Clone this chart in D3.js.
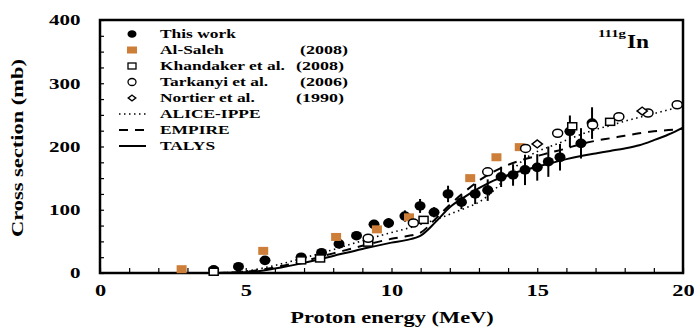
<!DOCTYPE html>
<html>
<head>
<meta charset="utf-8">
<script src="https://cdn.jsdelivr.net/npm/d3@7"></script>
<style>
  body { margin: 0; background: #fff; }
  text { font-family: "Liberation Serif", "Times New Roman", serif; font-weight: bold; fill: #000; }
</style>
</head>
<body>
<div id="chart"></div>
<script>
// ---- data ----
var workE   = [3.9, 4.75, 5.66, 6.9, 7.6, 8.2, 8.8, 9.4, 9.9, 10.46, 10.98, 11.46, 11.94, 12.4, 12.87, 13.3, 13.76, 14.17, 14.58, 15.0, 15.38, 15.78, 16.12, 16.5, 16.88];
var workXS  = [5, 10, 20, 25, 32, 46, 59, 77, 79, 90, 106, 96, 125, 112, 125, 131, 152, 155, 163, 167, 176, 183, 224, 205, 237];
var workErr = [2, 2, 3, 3, 4, 5, 6, 7, 8, 9, 11, 8, 13, 11, 16, 17, 16, 17, 24, 21, 24, 21, 25, 24, 25];

var salehE  = [2.8, 5.6, 8.1, 9.5, 10.6, 12.7, 13.6, 14.4];
var salehXS = [6, 35, 57, 69, 88, 150, 183, 199];

var khanE  = [3.9, 6.9, 7.55, 9.2, 11.1, 16.2, 17.5];
var khanXS = [2, 20, 23, 48, 84, 232, 239];

var tarkE  = [9.2, 10.75, 13.3, 14.6, 15.7, 16.9, 17.8, 18.8, 19.8];
var tarkXS = [55, 79, 160, 197, 221, 234, 247, 253, 266];

var nortE  = [15.0, 18.6];
var nortXS = [204, 256];

var curveE   = [4, 5, 6, 7, 8, 9, 10, 10.5, 11, 11.5, 12, 12.5, 13, 13.5, 14, 14.5, 15, 15.5, 16, 16.5, 17, 17.5, 18, 18.5, 19, 19.5, 20];
var aliceXS  = [0, 3, 12, 24, 37, 51, 64, 70, 77, 84, 93, 102, 112, 130, 155, 178, 192, 201, 210, 219, 227, 233, 240, 246, 252, 258, 264];
var empireXS = [0, 2, 9, 19, 31, 43, 54, 58, 64, 85, 108, 128, 146, 160, 171, 179, 185, 191, 197, 204, 209, 213, 217, 221, 224, 226, 228];
var talysXS  = [0, 1, 7, 16, 27, 38, 48, 52, 59, 80, 104, 120, 134, 146, 155, 162, 168, 174, 180, 185, 189, 193, 197, 202, 210, 219, 230];

var xTicks = d3.range(0, 21, 1);
var yTicks = d3.range(0, 401, 25);

var legendRows = [
  {name: "This work",        year: ""},
  {name: "Al-Saleh",         year: "(2008)"},
  {name: "Khandaker et al.", year: "(2008)"},
  {name: "Tarkanyi et al.",  year: "(2006)"},
  {name: "Nortier et al.",   year: "(1990)"},
  {name: "ALICE-IPPE",       year: ""},
  {name: "EMPIRE",           year: ""},
  {name: "TALYS",            year: ""}
];
var yearX = [0, 300, 296, 300, 296];

var orange = "#cd7f3a";
var SX = 1.4; // the original text looks stretched sideways

var margin = {top: 20, right: 11, bottom: 54, left: 100},
    width = 694 - margin.left - margin.right,
    height = 327 - margin.top - margin.bottom;

var root = d3.select("#chart").append("svg")
    .attr("width", 694)
    .attr("height", 327);

var svg = root.append("g")
    .attr("transform", "translate(" + margin.left + "," + margin.top + ")");

var x = d3.scaleLinear().domain([0, 20]).range([0, width]);
var y = d3.scaleLinear().domain([0, 400]).range([height, 0]);

function label(g, txt, px, py, size, anchor, sx) {
  return g.append("text")
    .attr("transform", "translate(" + px + "," + py + ") scale(" + (sx || SX) + ",1)")
    .attr("text-anchor", anchor || "start")
    .style("font-size", size + "px")
    .text(txt);
}

// axes
var gx = svg.append("g")
    .attr("transform", "translate(0," + height + ")")
    .call(d3.axisBottom(x).tickValues(xTicks).tickSize(-5).tickPadding(12)
      .tickFormat(function (d) { return d % 5 === 0 ? d : ""; }));
gx.select(".domain").remove();
gx.selectAll("line").attr("stroke", "#000").attr("stroke-width", 1.2);
gx.selectAll("text").style("font-size", "16px").attr("transform", "scale(" + SX + ",1)");

var gy = svg.append("g")
    .call(d3.axisLeft(y).tickValues(yTicks).tickSize(-4).tickPadding(14)
      .tickFormat(function (d) { return d % 100 === 0 ? d : ""; }));
gy.select(".domain").remove();
gy.selectAll("line").attr("stroke", "#000").attr("stroke-width", 1.2);
gy.selectAll("text").style("font-size", "15px").attr("transform", "scale(" + SX + ",1)");

// frame
svg.append("rect")
    .attr("x", 0).attr("y", 0)
    .attr("width", width).attr("height", height)
    .attr("fill", "none").attr("stroke", "#000").attr("stroke-width", 2.5);

// model curves
function curve(vals) {
  return d3.line()
    .x(function (d, i) { return x(curveE[i]); })
    .y(function (d) { return y(d); })
    .curve(d3.curveMonotoneX)(vals);
}
svg.append("path").attr("d", curve(aliceXS))
    .attr("fill", "none").attr("stroke", "#000").attr("stroke-width", 1.6).attr("stroke-dasharray", "1.5,3.5");
svg.append("path").attr("d", curve(empireXS))
    .attr("fill", "none").attr("stroke", "#000").attr("stroke-width", 2).attr("stroke-dasharray", "9,7");
svg.append("path").attr("d", curve(talysXS))
    .attr("fill", "none").attr("stroke", "#000").attr("stroke-width", 2);

// this work with error bars
var work = workE.map(function (e, i) { return {e: e, v: workXS[i], err: workErr[i]}; });
svg.selectAll(".err").data(work).enter().append("line")
    .attr("class", "err")
    .attr("x1", function (d) { return x(d.e); })
    .attr("x2", function (d) { return x(d.e); })
    .attr("y1", function (d) { return y(d.v - d.err); })
    .attr("y2", function (d) { return y(d.v + d.err); })
    .attr("stroke", "#000").attr("stroke-width", 2);
svg.selectAll(".work").data(work).enter().append("ellipse")
    .attr("class", "work")
    .attr("cx", function (d) { return x(d.e); })
    .attr("cy", function (d) { return y(d.v); })
    .attr("rx", 5.5).attr("ry", 4.8)
    .attr("fill", "#000");

// Al-Saleh
svg.selectAll(".saleh").data(salehE).enter().append("rect")
    .attr("class", "saleh")
    .attr("x", function (d) { return x(d) - 5; })
    .attr("y", function (d, i) { return y(salehXS[i]) - 4; })
    .attr("width", 10).attr("height", 8)
    .attr("fill", orange);

// Khandaker
svg.selectAll(".khan").data(khanE).enter().append("rect")
    .attr("class", "khan")
    .attr("x", function (d) { return x(d) - 4.5; })
    .attr("y", function (d, i) { return y(khanXS[i]) - 3.5; })
    .attr("width", 9).attr("height", 7)
    .attr("fill", "#fff").attr("stroke", "#000").attr("stroke-width", 1.5);

// Tarkanyi
svg.selectAll(".tark").data(tarkE).enter().append("ellipse")
    .attr("class", "tark")
    .attr("cx", function (d) { return x(d); })
    .attr("cy", function (d, i) { return y(tarkXS[i]); })
    .attr("rx", 5).attr("ry", 4)
    .attr("fill", "#fff").attr("stroke", "#000").attr("stroke-width", 1.5);

// Nortier
var diamond = d3.symbol().type(d3.symbolDiamond2).size(40);
svg.selectAll(".nort").data(nortE).enter().append("path")
    .attr("class", "nort")
    .attr("d", diamond)
    .attr("transform", function (d, i) { return "translate(" + x(d) + "," + y(nortXS[i]) + ") scale(1.3,1)"; })
    .attr("fill", "#fff").attr("stroke", "#000").attr("stroke-width", 1.3);

// legend
var leg = root.append("g");
legendRows.forEach(function (r, i) {
  var cy = 34 + 16 * i;
  label(leg, r.name, 160, cy + 4, 12, "start", 1.45);
  if (r.year) label(leg, r.year, yearX[i], cy + 4, 12, "start", 1.5);
  if (i === 0) leg.append("ellipse").attr("cx", 132).attr("cy", cy).attr("rx", 4.5).attr("ry", 3.8).attr("fill", "#000");
  if (i === 1) leg.append("rect").attr("x", 127).attr("y", cy - 3.5).attr("width", 10).attr("height", 7).attr("fill", orange);
  if (i === 2) leg.append("rect").attr("x", 128).attr("y", cy - 3).attr("width", 8).attr("height", 6)
      .attr("fill", "#fff").attr("stroke", "#000").attr("stroke-width", 1.3);
  if (i === 3) leg.append("ellipse").attr("cx", 132).attr("cy", cy).attr("rx", 4).attr("ry", 3.5)
      .attr("fill", "#fff").attr("stroke", "#000").attr("stroke-width", 1.3);
  if (i === 4) leg.append("path").attr("d", d3.symbol().type(d3.symbolDiamond2).size(22))
      .attr("transform", "translate(132," + cy + ") scale(1.3,1)")
      .attr("fill", "#fff").attr("stroke", "#000").attr("stroke-width", 1.2);
  if (i >= 5) {
    var dash = ["1.5,3.5", "9,7", null][i - 5];
    leg.append("line").attr("x1", 119).attr("x2", 146).attr("y1", cy).attr("y2", cy)
      .attr("stroke", "#000").attr("stroke-width", i === 5 ? 1.4 : 2)
      .attr("stroke-dasharray", dash);
  }
});

// nuclide label
label(root, "111g", 598, 37, 11, "start", 1.35);
label(root, "In", 627, 48, 18, "start", 1.3);

// axis titles
label(root, "Proton energy (MeV)", 392, 323, 16, "middle");
root.append("text")
    .attr("transform", "translate(23,148) rotate(-90)")
    .attr("text-anchor", "middle")
    .style("font-size", "16px")
    .attr("textLength", 178)
    .attr("lengthAdjust", "spacingAndGlyphs")
    .text("Cross section (mb)");
</script>
</body>
</html>
